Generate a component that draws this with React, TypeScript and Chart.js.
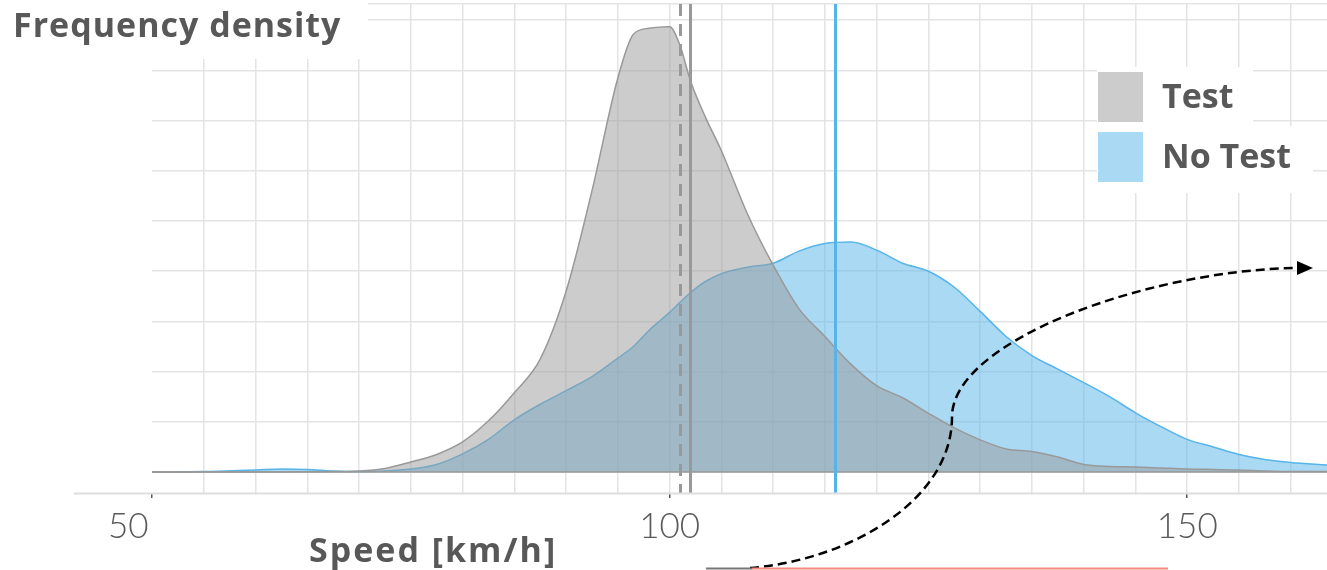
import React, { useEffect, useRef } from 'react';
import { Chart, registerables } from 'chart.js';

Chart.register(...registerables);

// ---------- data ----------
const speeds = [
  50, 55, 60, 62.5, 65, 67.5, 70, 72.5, 75, 77.5, 80, 82.5, 85, 87.5, 90, 92.5,
  95, 96.5, 98, 100, 101, 102, 103.5, 105, 107.5, 110, 112.5, 115, 117.5, 120,
  122.5, 125, 127.5, 130, 132.5, 135, 137.5, 140, 142.5, 145, 147.5, 150, 152.5,
  155, 157.5, 160, 163.5,
];

const testDensity = [
  0, 0, 0, 0, 0.005, 0.01, 0.02, 0.07, 0.2, 0.35, 0.6, 1.02, 1.58, 2.25, 3.6, 5.6,
  7.85, 8.72, 8.84, 8.87, 8.5, 7.8, 7.05, 6.4, 5.15, 4.12, 3.25, 2.7, 2.15, 1.72,
  1.48, 1.17, 0.88, 0.64, 0.46, 0.41, 0.3, 0.15, 0.11, 0.1, 0.08, 0.06, 0.05,
  0.04, 0.02, 0.01, 0.01,
];

const noTestDensity = [
  0, 0.01, 0.04, 0.06, 0.05, 0.02, 0.01, 0.02, 0.06, 0.15, 0.36, 0.65, 1.04, 1.35, 1.62, 1.9,
  2.27, 2.5, 2.82, 3.18, 3.38, 3.57, 3.8, 3.95, 4.08, 4.16, 4.4, 4.55, 4.58, 4.42,
  4.16, 4.0, 3.68, 3.2, 2.7, 2.32, 2.05, 1.78, 1.5, 1.18, 0.9, 0.65, 0.5,
  0.35, 0.25, 0.19, 0.14,
];

const seriesLabels = ['Test', 'No Test'];
const xTickLabels = [50, 100, 150];
const xGridValues = [55, 60, 65, 70, 75, 80, 85, 90, 95, 100, 105, 110, 115, 120, 125, 130, 135, 140, 145, 150, 155, 160];
const yGridValues = [0, 1, 2, 3, 4, 5, 6, 7, 8, 9];

const testMedian = 101.0; // dashed grey line
const testMean = 102.0; // solid grey line
const noTestMean = 116.0; // solid blue line

const X_MIN = 50;
const X_MAX = 163.5;
const Y_MIN = -0.418;
const Y_MAX = 9.323;

const GREY_FILL = 'rgba(153,153,153,0.5)';
const GREY_LINE = '#999999';
const BLUE_FILL = 'rgba(86,180,233,0.5)';
const BLUE_LINE = '#56b4e9';
const TEXT = '#585858';
const GRID = '#e4e4e4';
const NBSP = '\u00a0';

const decorations = {
  id: 'decorations',
  afterDatasetsDraw(chart: any) {
    const ctx = chart.ctx;
    const xs = chart.scales.x;
    const ys = chart.scales.y;
    const { top, bottom, right } = chart.chartArea;
    ctx.save();
    // density baseline
    const y0 = ys.getPixelForValue(0);
    ctx.strokeStyle = GREY_LINE;
    ctx.lineWidth = 1.5;
    ctx.beginPath();
    ctx.moveTo(xs.getPixelForValue(speeds[0]), y0);
    ctx.lineTo(right, y0);
    ctx.stroke();

    // mean / median lines
    const vline = (v: number, color: string, dash: number[]) => {
      const px = Math.round(xs.getPixelForValue(v)) + 0.5;
      ctx.strokeStyle = color;
      ctx.lineWidth = 3;
      ctx.setLineDash(dash);
      ctx.beginPath();
      ctx.moveTo(px, top);
      ctx.lineTo(px, bottom);
      ctx.stroke();
    };
    vline(testMedian, GREY_LINE, [12, 8]);
    vline(testMean, GREY_LINE, []);
    vline(noTestMean, BLUE_LINE, []);
    ctx.setLineDash([]);
    ctx.restore();
  },
  afterDraw(chart: any) {
    const ctx = chart.ctx;
    const { bottom, right } = chart.chartArea;
    ctx.save();

    // extended x-axis line
    ctx.strokeStyle = '#dedede';
    ctx.lineWidth = 2;
    ctx.beginPath();
    ctx.moveTo(74, bottom + 0.5);
    ctx.lineTo(right, bottom + 0.5);
    ctx.stroke();

    // y-axis title with white box
    ctx.fillStyle = '#ffffff';
    ctx.fillRect(0, 0, 368, 59);
    ctx.fillStyle = TEXT;
    ctx.font = 'bold 34px "Open Sans"';
    ctx.textBaseline = 'alphabetic';
    ctx.textAlign = 'left';
    (ctx as any).letterSpacing = '1px';
    ctx.fillText('Frequency density', 13, 37);

    // x-axis title
    (ctx as any).letterSpacing = '2px';
    ctx.fillText('Speed [km/h]', 309, 562);
    (ctx as any).letterSpacing = '0px';

    // legend
    ctx.fillStyle = '#ffffff';
    ctx.fillRect(1097, 67, 156, 60);
    ctx.fillRect(1097, 126, 216, 67);
    const sw = [GREY_FILL, BLUE_FILL];
    seriesLabels.forEach((lab, i) => {
      const yy = 72 + i * 60;
      ctx.fillStyle = sw[i];
      ctx.fillRect(1098, yy, 45, 50);
      ctx.fillStyle = TEXT;
      ctx.font = 'bold 34px "Open Sans"';
      ctx.textBaseline = 'middle';
      ctx.fillText(lab, 1162, yy + 26);
    });

    // dashed arrow annotation
    ctx.strokeStyle = '#000000';
    ctx.lineWidth = 2.5;
    ctx.setLineDash([9, 5]);
    ctx.beginPath();
    ctx.moveTo(750, 568);
    ctx.bezierCurveTo(850, 560, 952, 500, 952, 417);
    ctx.bezierCurveTo(952, 340, 1150, 270, 1297, 268);
    ctx.stroke();
    ctx.setLineDash([]);
    ctx.fillStyle = '#000000';
    ctx.beginPath();
    ctx.moveTo(1313, 268);
    ctx.lineTo(1297, 261);
    ctx.lineTo(1297, 275);
    ctx.closePath();
    ctx.fill();

    // bottom line fragment
    ctx.lineWidth = 2;
    ctx.strokeStyle = '#777777';
    ctx.beginPath();
    ctx.moveTo(706, 568.5);
    ctx.lineTo(752, 568.5);
    ctx.stroke();
    ctx.strokeStyle = '#f08a80';
    ctx.beginPath();
    ctx.moveTo(752, 568.5);
    ctx.lineTo(1168, 568.5);
    ctx.stroke();

    ctx.restore();
  },
};

export default function App() {
  const ref = useRef<HTMLCanvasElement | null>(null);

  useEffect(() => {
    if (!ref.current) return;
    const toPts = (arr: number[]) => speeds.map((s, i) => ({ x: s, y: arr[i] }));
    const chart = new Chart(ref.current, {
      type: 'line',
      data: {
        datasets: [
          {
            label: seriesLabels[0],
            data: toPts(testDensity),
            borderColor: GREY_LINE,
            backgroundColor: GREY_FILL,
            borderWidth: 1.5,
            fill: 'origin',
            pointRadius: 0,
            cubicInterpolationMode: 'monotone',
          },
          {
            label: seriesLabels[1],
            data: toPts(noTestDensity),
            borderColor: BLUE_LINE,
            backgroundColor: BLUE_FILL,
            borderWidth: 1.5,
            fill: 'origin',
            pointRadius: 0,
            cubicInterpolationMode: 'monotone',
          },
        ],
      },
      options: {
        responsive: false,
        maintainAspectRatio: false,
        animation: false,
        devicePixelRatio: 1,
        layout: { padding: { left: 152, top: 4, right: 0, bottom: 0 } },
        plugins: { legend: { display: false }, tooltip: { enabled: false }, title: { display: false } },
        scales: {
          x: {
            type: 'linear',
            min: X_MIN,
            max: X_MAX,
            afterBuildTicks: (scale: any) => {
              const vals = Array.from(new Set([...xTickLabels, ...xGridValues])).sort((a, b) => a - b);
              scale.ticks = vals.map((v) => ({ value: v }));
            },
            afterFit: (scale: any) => {
              scale.height = 77;
            },
            border: { display: false },
            grid: {
              color: (c: any) => (c.tick && c.tick.value === X_MIN ? 'rgba(0,0,0,0)' : GRID),
              lineWidth: 1.5,
              drawTicks: true,
              tickLength: 5,
              tickColor: (c: any) => (c.tick && xTickLabels.includes(c.tick.value) ? '#555555' : 'rgba(0,0,0,0)'),
            },
            ticks: {
              autoSkip: false,
              maxRotation: 0,
              padding: 8,
              color: '#5a5a5a',
              font: { family: 'Lato', size: 35, weight: '300' as any },
              callback: (v: any) => {
                const n = Number(v);
                if (!xTickLabels.includes(n)) return '';
                // the first label sits a little left of its tick in the reference
                return n === X_MIN ? String(n) + NBSP.repeat(5) : String(n);
              },
            },
          },
          y: {
            type: 'linear',
            min: Y_MIN,
            max: Y_MAX,
            afterBuildTicks: (scale: any) => {
              scale.ticks = [...yGridValues, Y_MAX].map((v) => ({ value: v }));
            },
            afterFit: (scale: any) => {
              scale.width = 0;
            },
            border: { display: false },
            grid: { color: GRID, lineWidth: 1.5, drawTicks: false },
            ticks: { display: false },
          },
        },
      },
      plugins: [decorations],
    });
    return () => chart.destroy();
  }, []);

  return (
    <div style={{ position: 'fixed', left: 0, top: 0, width: 1327, height: 570, background: '#ffffff' }}>
      <canvas ref={ref} width={1327} height={570} style={{ display: 'block' }} />
    </div>
  );
}
